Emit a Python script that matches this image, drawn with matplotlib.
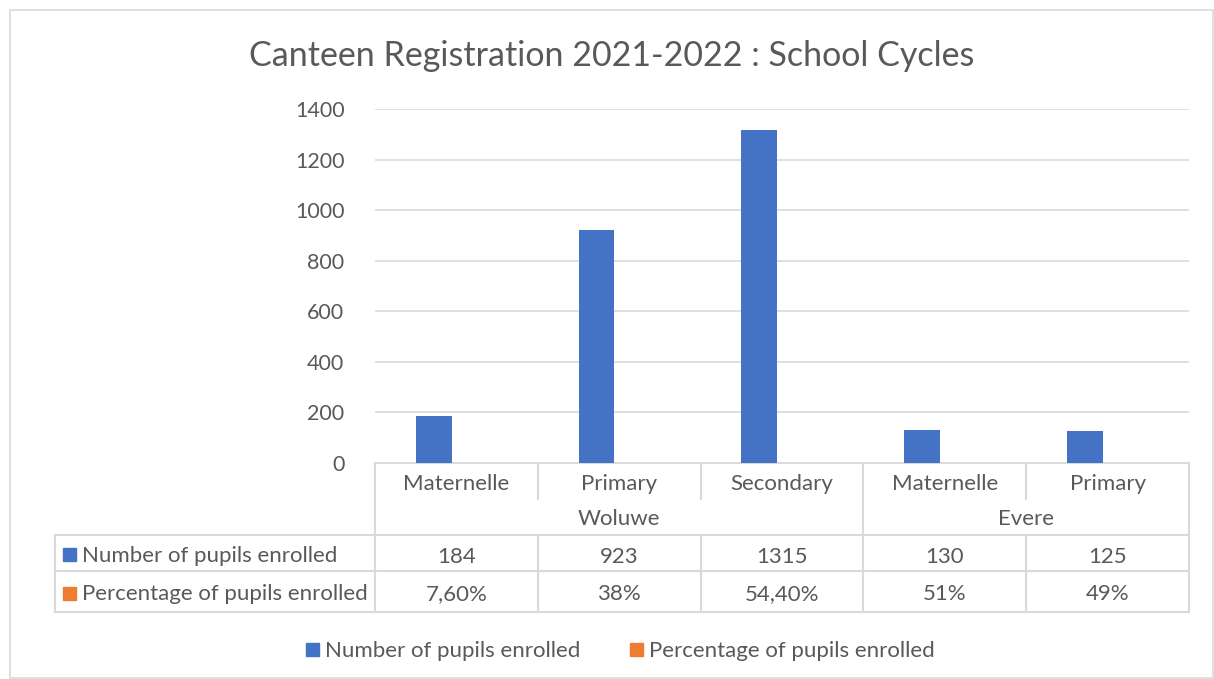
import numpy as np
import matplotlib.pyplot as plt
from matplotlib.lines import Line2D
from matplotlib.patches import Rectangle

plt.rcParams['font.family'] = ['Lato', 'DejaVu Sans']

# Data
categories = ["Maternelle", "Primary", "Secondary", "Maternelle", "Primary"]
groups = ["Woluwe", "Evere"]
group_sizes = [3, 2]
pupils = [184, 923, 1315, 130, 125]
percent = [0.076, 0.38, 0.544, 0.51, 0.49]
percent_labels = ["7,60%", "38%", "54,40%", "51%", "49%"]
series_names = ["Number of pupils enrolled", "Percentage of pupils enrolled"]
yticks = [0, 200, 400, 600, 800, 1000, 1200, 1400]

blue = "#4472C4"
orange = "#ED7D31"
txt = "#595959"
grid = "#D9D9D9"

W, H = 1214, 679
fig = plt.figure(figsize=(W / 100, H / 100), dpi=100)

# plot area in pixels
left, right, top, bottom = 375, 1189, 109, 463
ax = fig.add_axes([left / W, 1 - bottom / H, (right - left) / W, (bottom - top) / H])
x = np.arange(len(categories))
ax.bar(x - 0.14, pupils, width=0.22, color=blue, zorder=3)
ax.bar(x + 0.14, percent, width=0.22, color=orange, zorder=3)
ax.set_xlim(-0.5, len(categories) - 0.5)
ax.set_ylim(0, 1400)
ax.set_yticks(yticks)
ax.set_yticklabels([str(v) for v in yticks], fontsize=15.5, color=txt)
ax.tick_params(axis='y', length=0, pad=22)
ax.set_xticks([])
ax.yaxis.grid(True, color=grid, linewidth=1.2, zorder=0)
for s in ax.spines.values():
    s.set_visible(False)

# overlay in pixel coordinates for the title, data table, legend and frame
ov = fig.add_axes([0, 0, 1, 1], zorder=-1)
ov.set_xlim(0, W)
ov.set_ylim(H, 0)
ov.axis('off')

ov.text(612, 56, "Canteen Registration 2021-2022 : School Cycles", ha='center',
        va='center', fontsize=24.5, color=txt)

def hline(y, x0, x1):
    ov.add_line(Line2D([x0, x1], [y, y], color=grid, lw=1.5))

def vline(xp, y0, y1):
    ov.add_line(Line2D([xp, xp], [y0, y1], color=grid, lw=1.5))

ov.add_patch(Rectangle((10, 10), W - 11, H - 11, fill=False, ec=grid, lw=1.2))

cw = (right - left) / len(categories)
edges = [left + i * cw for i in range(len(categories) + 1)]
r_cat, r_grp, r1, r2, r_end = 463, 499, 535, 571, 612
tab_left = 55

hline(r_cat, left, right)
for yy in (r1, r2, r_end):
    hline(yy, tab_left, right)
vline(tab_left, r1, r_end)
grp_edges = [0] + list(np.cumsum(group_sizes))
for i, e in enumerate(edges):
    if i in grp_edges:
        vline(e, r_cat, r_end)
    else:
        vline(e, r_cat, r_grp)
        vline(e, r1, r_end)

fs = 16
for i, c in enumerate(categories):
    cx = (edges[i] + edges[i + 1]) / 2
    ov.text(cx, (r_cat + r_grp) / 2 + 3, c, ha='center', va='center', fontsize=fs, color=txt)
    ov.text(cx, (r1 + r2) / 2 + 4, str(pupils[i]), ha='center', va='center', fontsize=fs, color=txt)
    ov.text(cx, (r2 + r_end) / 2 + 3, percent_labels[i], ha='center', va='center', fontsize=fs, color=txt)
for g, a, b in zip(groups, grp_edges[:-1], grp_edges[1:]):
    cx = (edges[a] + edges[b]) / 2
    ov.text(cx, (r_grp + r1) / 2 + 2, g, ha='center', va='center', fontsize=fs, color=txt)

for name, col, (y0, y1) in zip(series_names, [blue, orange], [(r1, r2), (r2, r_end)]):
    yc = (y0 + y1) / 2 + 1
    ov.add_patch(Rectangle((63, yc - 6), 13, 13, color=col))
    ov.text(82, yc + 2, name, ha='left', va='center', fontsize=fs, color=txt)

# legend
leg_y = 649
for name, col, lx in zip(series_names, [blue, orange], [306, 630]):
    ov.add_patch(Rectangle((lx, leg_y - 6), 13, 13, color=col))
    ov.text(lx + 19, leg_y + 2, name, ha='left', va='center', fontsize=fs, color=txt)

fig.savefig("out.png", dpi=100)
